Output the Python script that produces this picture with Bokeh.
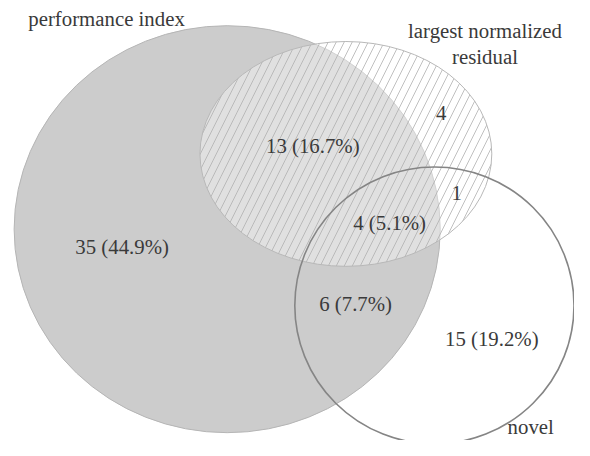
from bokeh.plotting import figure
from bokeh.models import Range1d
from bokeh.embed import file_html
from bokeh.resources import INLINE
from bokeh.core.properties import value

# ---- data ----
set_names = ["performance index", "largest normalized\nresidual", "novel"]
region_names = ["P only", "P & L", "P & L & N", "P & N", "L only", "L & N", "N only"]
region_counts = [35, 13, 4, 6, 4, 1, 15]
show_percent = [True, True, True, True, False, False, True]
total = sum(region_counts)

# ---- layout (reference pixel coordinates, y downward) ----
H = 456
def fy(ry):
    return H - ry

p = figure(width=574, height=440, x_range=Range1d(0, 590), y_range=Range1d(0, 456),
           output_backend="svg", toolbar_location=None, min_border=0,
           background_fill_color="white", border_fill_color="white")
p.axis.visible = False
p.grid.visible = False
p.outline_line_color = None

# performance index
p.ellipse(x=[233], y=[fy(237)], width=[438], height=[422],
          fill_color="#cccccc", line_color="#b5b5b5", line_width=1)
# largest normalized residual
p.ellipse(x=[355], y=[fy(159)], width=[300], height=[233],
          fill_color="white", fill_alpha=0.4, line_color="#b8b8b8", line_width=1,
          hatch_pattern="/", hatch_color="#b0b0b0", hatch_scale=16, hatch_weight=0.8)
# novel
p.ellipse(x=[446], y=[fy(316)], width=[287], height=[287],
          fill_color=None, line_color="#858585", line_width=1.6)

font = value("Liberation Serif")
tcol = "#3a3a3a"
fs = "20.8px"

labels = []
for c, sp in zip(region_counts, show_percent):
    labels.append(f"{c} ({100*c/total:.1f}%)" if sp else f"{c}")
lx = [125, 321, 400, 365, 453, 469, 505]
ly = [fy(v) for v in [255, 150, 230, 314, 117, 200, 350]]
p.text(x=lx, y=ly, text=labels, text_font=font, text_font_size=fs,
       text_color=tcol, text_align="center", text_baseline="middle")

# set labels
p.text(x=[109], y=[fy(19)], text=[set_names[0]], text_font=font, text_font_size=fs,
       text_color=tcol, text_align="center", text_baseline="middle")
p.text(x=[498, 498], y=[fy(31), fy(58)], text=set_names[1].split("\n"), text_font=font,
       text_font_size=fs, text_color=tcol, text_align="center", text_baseline="middle")
p.text(x=[545], y=[fy(441)], text=[set_names[2]], text_font=font, text_font_size=fs,
       text_color=tcol, text_align="center", text_baseline="middle")

open("out.html", "w").write(file_html(p, INLINE))
